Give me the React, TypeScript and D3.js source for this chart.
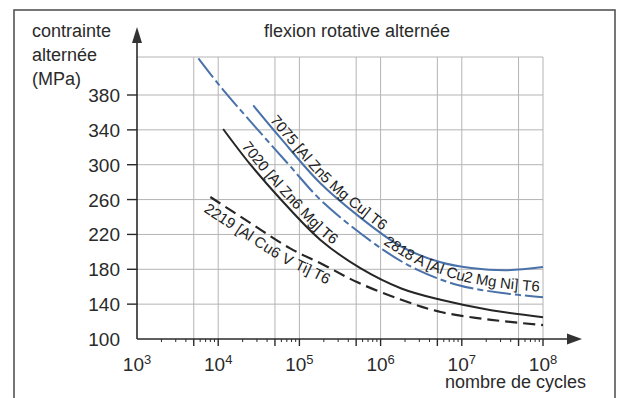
import React from "react";
import * as d3 from "d3";

// texts
const title = "flexion rotative alternée";
const yTitle = ["contrainte", "alternée", "(MPa)"];
const xTitle = "nombre de cycles";

// axes
const stressTicks = [100, 140, 180, 220, 260, 300, 340, 380];
const cycleDecades = [3, 4, 5, 6, 7, 8];

// curves (cycles, MPa)
const cycles7075 = [2.7e4, 5.8e4, 1.8e5, 5.7e5, 1.8e6, 5.5e6, 1.3e7, 3.7e7, 1e8];
const stress7075 = [368, 331, 279, 239, 206, 188, 181.5, 179, 182.5];

const cycles2618 = [5.7e3, 1.15e4, 7.1e4, 2.0e5, 1.09e6, 2.9e6, 8.9e6, 3.0e7, 1e8];
const stress2618 = [422, 386, 302, 256, 202, 179, 162, 153, 148];

const cycles7020 = [1.15e4, 2.5e4, 5.8e4, 1.8e5, 5.7e5, 1.8e6, 5.5e6, 2.3e7, 1e8];
const stress7020 = [341, 300, 261, 214, 181, 158, 145, 133, 125];

const cycles2219 = [8.0e3, 2.5e4, 7.7e4, 2.0e5, 5.2e5, 1.8e6, 5.5e6, 2.3e7, 1e8];
const stress2219 = [263, 233, 204, 185, 165, 145, 131, 122, 116];

const BLUE = "#4a72aa";
const DARK = "#262626";
const FONT = "'Liberation Sans', Arial, sans-serif";

const series = [
  { id: "c7075", cycles: cycles7075, stress: stress7075, color: BLUE, dash: undefined, width: 2,
    label: "7075 [Al Zn5 Mg Cu] T6", offset: 22, dy: -3, anchor: "start" },
  { id: "c2618", cycles: cycles2618, stress: stress2618, color: BLUE, dash: "24 4 6 4", width: 2,
    label: "2818 A [Al Cu2 Mg Ni] T6", offset: "99%", dy: -5, anchor: "end" },
  { id: "c7020", cycles: cycles7020, stress: stress7020, color: DARK, dash: undefined, width: 2,
    label: "7020 [Al Zn6 Mg] T6", offset: 25, dy: -4, anchor: "start" },
  { id: "c2219", cycles: cycles2219, stress: stress2219, color: DARK, dash: "12 6", width: 2.2,
    label: "2219 [Al Cu6 V Ti] T6", offset: 2, dy: 16, anchor: "start" },
];

export default function App() {
  const x = d3.scaleLog().domain([1e3, 1e8]).range([137, 543]);
  const y = d3.scaleLinear().domain([100, 380]).range([339, 95]);
  const gridTop = 57;
  const [x0, x1] = x.range();
  const y0 = y(100);

  const mant = (t) => Math.round(t / Math.pow(10, Math.floor(Math.log10(t) + 1e-9)));
  const xTicks = x.ticks().filter((t) => t > 1e3);
  const gridX = xTicks.filter((t) => mant(t) === 1 || mant(t) === 5);

  const line = d3
    .line()
    .x((d) => x(d[0]))
    .y((d) => y(d[1]))
    .curve(d3.curveCatmullRom.alpha(0.5));

  return (
    <svg
      width={622}
      height={398}
      style={{ position: "absolute", left: 0, top: 0, background: "#fff" }}
      fontFamily={FONT}
    >
      {/* frame */}
      <rect x={14} y={10} width={601} height={400} fill="none" stroke="#4a4a4a" strokeWidth={1.5} />

      {/* grid */}
      <g stroke="#b4b4b4" strokeWidth={1}>
        {gridX.map((t) => (
          <line key={"gx" + t} x1={x(t)} x2={x(t)} y1={gridTop} y2={y0} />
        ))}
        {stressTicks.filter((v) => v > 100).map((v) => (
          <line key={"gy" + v} x1={x0} x2={x1} y1={y(v)} y2={y(v)} />
        ))}
        <line x1={x0} x2={x1} y1={gridTop} y2={gridTop} />
      </g>

      {/* curves */}
      {series.map((s) => (
        <path
          key={s.id}
          id={s.id}
          d={line(s.cycles.map((c, i) => [c, s.stress[i]]))}
          fill="none"
          stroke={s.color}
          strokeWidth={s.width}
          strokeDasharray={s.dash}
        />
      ))}

      {/* curve labels */}
      {series.map((s) => (
        <text key={"l" + s.id} fontSize={15} fill="#222" dy={s.dy} textAnchor={s.anchor}>
          <textPath href={"#" + s.id} startOffset={s.offset}>
            {s.label}
          </textPath>
        </text>
      ))}

      {/* axes */}
      <g stroke="#2a2a2a" strokeWidth={1.6} fill="none">
        <line x1={x0} x2={x1 + 30} y1={y0} y2={y0} />
        <line x1={x0} x2={x0} y1={y0} y2={40} />
        {xTicks.map((t) => {
          const m = mant(t);
          const long = m === 1 || m === 5;
          return <line key={"xt" + t} x1={x(t)} x2={x(t)} y1={y0} y2={y0 + (long ? 7 : 3)} strokeWidth={long ? 1.4 : 1} />;
        })}
        {stressTicks.filter((v) => v > 100).map((v) => (
          <line key={"yt" + v} x1={x0 - 10} x2={x0} y1={y(v)} y2={y(v)} strokeWidth={1.4} />
        ))}
      </g>
      <polygon points={`${x1 + 24},${y0 - 5.5} ${x1 + 39},${y0} ${x1 + 24},${y0 + 5.5}`} fill="#333" />
      <polygon points={`${x0 - 5},${43} ${x0},${27} ${x0 + 5},${43}`} fill="#333" />

      {/* tick labels */}
      <g fill="#2a2a2a" fontSize={19}>
        {stressTicks.map((v) => (
          <text key={"yl" + v} x={120} y={y(v) + 7} textAnchor="end">
            {v}
          </text>
        ))}
        {cycleDecades.map((d) => (
          <text key={"xl" + d} x={x(Math.pow(10, d))} y={371} textAnchor="middle">
            10
            <tspan dy={-7} fontSize={13}>
              {d}
            </tspan>
          </text>
        ))}
      </g>

      {/* titles */}
      <g fill="#2a2a2a" fontSize={18}>
        <text x={357} y={37} textAnchor="middle">
          {title}
        </text>
        {yTitle.map((t, i) => (
          <text key={t} x={32} y={37 + i * 24}>
            {t}
          </text>
        ))}
        <text x={586} y={388} textAnchor="end">
          {xTitle}
        </text>
      </g>
    </svg>
  );
}
